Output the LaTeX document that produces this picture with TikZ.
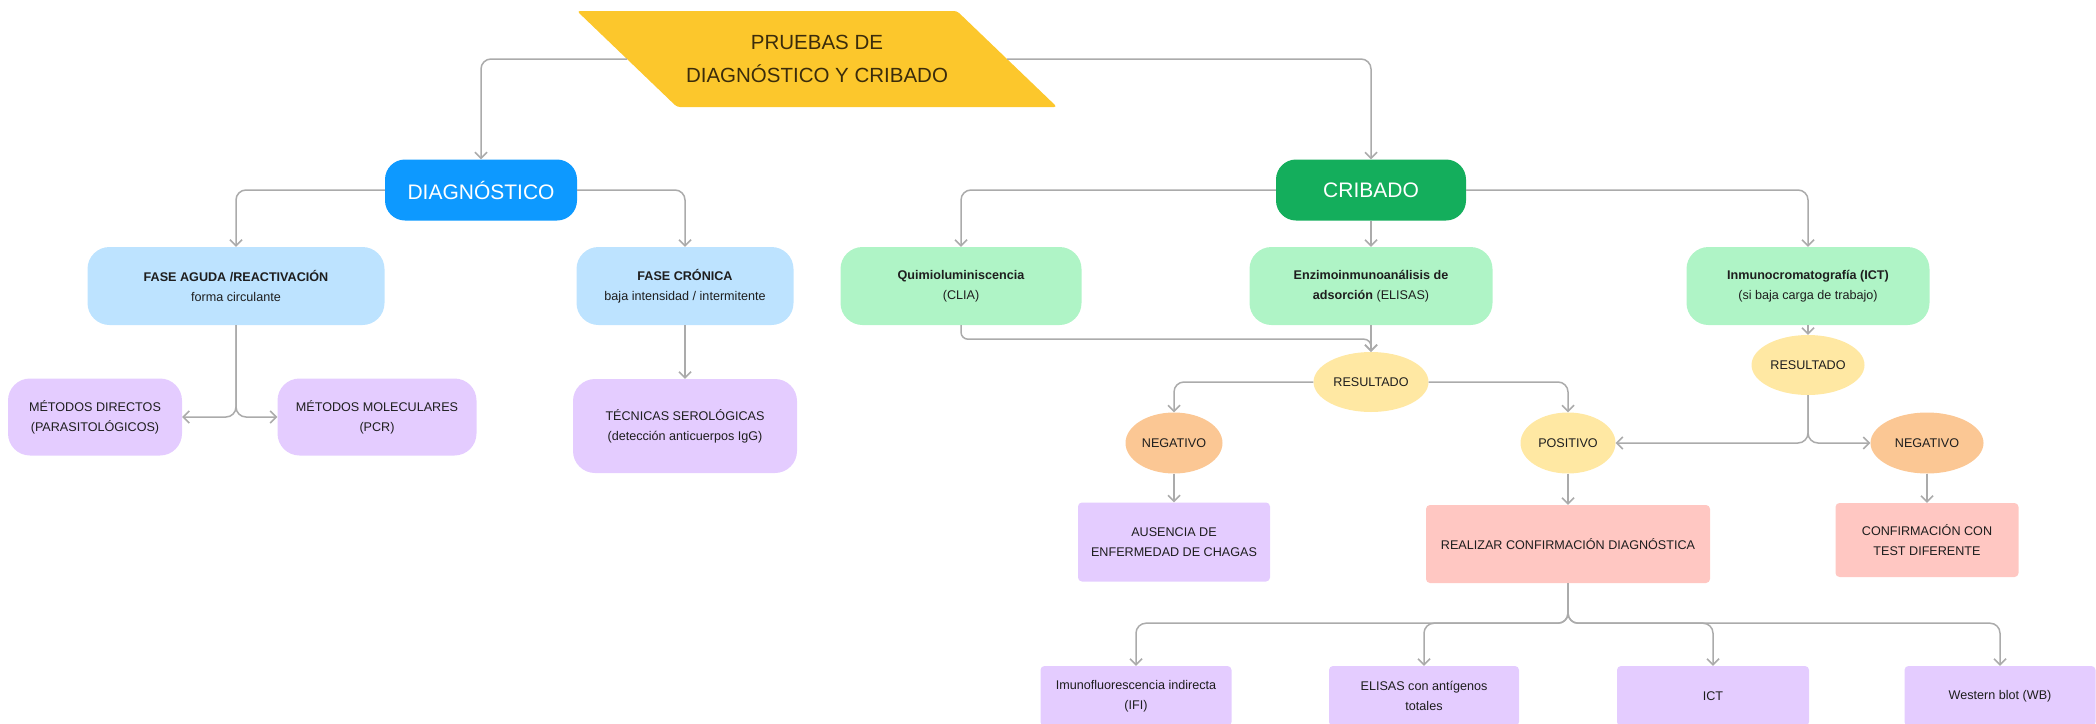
\documentclass[tikz,border=0pt]{standalone}
\usepackage{fontspec}
\setmainfont{Liberation Sans}
\usetikzlibrary{arrows.meta,shapes.geometric}
\definecolor{titlecol}{HTML}{FCC72C}
\definecolor{titletxt}{HTML}{3B2C0B}
\definecolor{bluedark}{HTML}{0D99FF}
\definecolor{greendark}{HTML}{14AE5C}
\definecolor{bluelight}{HTML}{BDE3FF}
\definecolor{mint}{HTML}{AFF4C6}
\definecolor{lav}{HTML}{E4CCFF}
\definecolor{yel}{HTML}{FFE8A3}
\definecolor{ora}{HTML}{FBC794}
\definecolor{pink}{HTML}{FFC7C2}
\definecolor{linegray}{HTML}{ABABAB}
\definecolor{txt}{HTML}{1E1E1E}
\begin{document}
\begin{tikzpicture}[x=1pt,y=-1pt,
  conn/.style={draw=linegray, line width=1.5pt, rounded corners=10pt,
    -{Straight Barb[length=6pt,width=12pt,line width=1.5pt]}},
  base/.style={inner sep=0pt, align=center, text=txt,
    font=\fontsize{12.6}{20}\selectfont},
  pillbox/.style={base, rectangle, rounded corners=22pt},
  bigbox/.style={rectangle, rounded corners=20pt, inner sep=0pt, text=white,
    font=\fontsize{21}{25}\selectfont, minimum height=61pt},
  rectbox/.style={base, rectangle, rounded corners=4pt},
  oval/.style={base, ellipse, minimum height=61pt},
]
\useasboundingbox (0,0) rectangle (2096,723);
\clip (0,0) rectangle (2096,723);

% title
\fill[titlecol, rounded corners=3pt] (577,11) -- (957,11) -- (1057,107) -- (677,107) -- cycle;
\node[inner sep=0pt, align=center, text=titletxt, font=\fontsize{20.5}{33}\selectfont] (title) at (817,59) {PRUEBAS DE\\DIAGNÓSTICO Y CRIBADO};
\coordinate (tl) at (627,59);
\coordinate (tr) at (1007,59);

% main branches
\node[bigbox, fill=bluedark, minimum width=192pt] (diag) at (481,190) {DIAGNÓSTICO};
\node[bigbox, fill=greendark, minimum width=190pt] (crib) at (1371,190) {CRIBADO};

% diagnostico side
\node[pillbox, fill=bluelight, minimum width=297pt, minimum height=78pt] (aguda) at (236,286) {\textbf{FASE AGUDA /REACTIVACIÓN}\\forma circulante};
\node[pillbox, fill=bluelight, minimum width=217pt, minimum height=78pt] (cronica) at (685,286) {\textbf{FASE CRÓNICA}\\baja intensidad / intermitente};
\node[pillbox, fill=lav, minimum width=174pt, minimum height=77pt] (directos) at (95,417) {MÉTODOS DIRECTOS\\(PARASITOLÓGICOS)};
\node[pillbox, fill=lav, minimum width=199pt, minimum height=77pt] (molec) at (377,417) {MÉTODOS MOLECULARES\\(PCR)};
\node[pillbox, fill=lav, minimum width=224pt, minimum height=94pt] (tecnicas) at (685,426) {TÉCNICAS SEROLÓGICAS\\(detección anticuerpos IgG)};

% cribado side
\node[pillbox, fill=mint, minimum width=241pt, minimum height=78pt] (clia) at (961,286) {\textbf{Quimioluminiscencia}\\(CLIA)};
\node[pillbox, fill=mint, minimum width=243pt, minimum height=78pt] (elisa) at (1371,286) {\textbf{Enzimoinmunoanálisis de}\\\textbf{adsorción} (ELISAS)};
\node[pillbox, fill=mint, minimum width=243pt, minimum height=78pt] (ict) at (1808,286) {\textbf{Inmunocromatografía (ICT)}\\(si baja carga de trabajo)};

\node[oval, fill=yel, minimum width=115pt, minimum height=60pt] (res1) at (1371,382) {RESULTADO};
\node[oval, fill=ora, minimum width=97pt] (neg1) at (1174,443) {NEGATIVO};
\node[oval, fill=yel, minimum width=95pt] (pos) at (1568,443) {POSITIVO};
\node[oval, fill=yel, minimum width=113pt, minimum height=60pt] (res2) at (1808,365) {RESULTADO};
\node[oval, fill=ora, minimum width=113pt] (neg2) at (1927,443) {NEGATIVO};

\node[rectbox, fill=lav, minimum width=192pt, minimum height=79pt] (ausencia) at (1174,542) {AUSENCIA DE\\ENFERMEDAD DE CHAGAS};
\node[rectbox, fill=pink, minimum width=284pt, minimum height=78pt] (realizar) at (1568,544) {REALIZAR CONFIRMACIÓN DIAGNÓSTICA};
\node[rectbox, fill=pink, minimum width=183pt, minimum height=74pt] (confirm) at (1927,540) {CONFIRMACIÓN CON\\TEST DIFERENTE};

\node[rectbox, fill=lav, minimum width=191pt, minimum height=60pt] (ifi) at (1136,696) {Imunofluorescencia indirecta\\(IFI)};
\node[rectbox, fill=lav, minimum width=190pt, minimum height=60pt] (elisas2) at (1424,696) {ELISAS con antígenos\\totales};
\node[rectbox, fill=lav, minimum width=192pt, minimum height=60pt] (ict2) at (1713,696) {ICT};
\node[rectbox, fill=lav, minimum width=191pt, minimum height=60pt] (wb) at (2000,696) {Western blot (WB)};

% connectors
\draw[conn] (tl) -| (diag.north);
\draw[conn] (tr) -| (crib.north);
\draw[conn] (diag.west) -| (aguda.north);
\draw[conn] (diag.east) -| (cronica.north);
\draw[conn] (aguda.south) |- (directos.east);
\draw[conn] (aguda.south) |- (molec.west);
\draw[conn] (cronica.south) -- (tecnicas.north);

\draw[conn] (crib.west) -| (clia.north);
\draw[conn] (crib.south) -- (elisa.north);
\draw[conn] (crib.east) -| (ict.north);
\draw[conn, rounded corners=7pt] (clia.south) -- ++(0,14) -| (res1.north);
\draw[conn] (elisa.south) -- (res1.north);
\draw[conn] (res1.west) -| (neg1.north);
\draw[conn] (res1.east) -| (pos.north);
\draw[conn] (ict.south) -- (res2.north);
\draw[conn] (res2.south) |- (pos.east);
\draw[conn] (res2.south) |- (neg2.west);
\draw[conn] (neg1.south) -- (ausencia.north);
\draw[conn] (pos.south) -- (realizar.north);
\draw[conn] (neg2.south) -- (confirm.north);

\draw[conn] (realizar.south) -- ++(0,40) -| (ifi.north);
\draw[conn] (realizar.south) -- ++(0,40) -| (elisas2.north);
\draw[conn] (realizar.south) -- ++(0,40) -| (ict2.north);
\draw[conn] (realizar.south) -- ++(0,40) -| (wb.north);
\end{tikzpicture}
\end{document}
